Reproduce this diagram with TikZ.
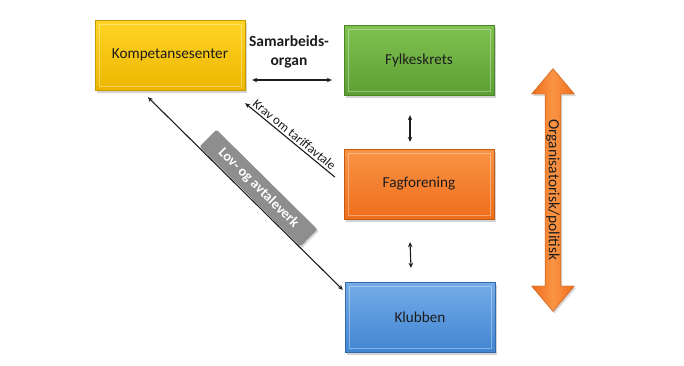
\documentclass[tikz,border=0pt]{standalone}
\usepackage{fontspec}
\setmainfont{Carlito}
\usepackage{xcolor}
\usetikzlibrary{arrows.meta, positioning, shapes.arrows, shadows}
\definecolor{ink}{HTML}{1C1C1C}
\definecolor{goldtop}{HTML}{FFD426}
\definecolor{goldbot}{HTML}{EDB600}
\definecolor{goldrim}{HTML}{C79A00}
\definecolor{greentop}{HTML}{80C250}
\definecolor{greenbot}{HTML}{5C9F34}
\definecolor{greenrim}{HTML}{4A8528}
\definecolor{orangetop}{HTML}{FA9445}
\definecolor{orangebot}{HTML}{EE6E1C}
\definecolor{orangerim}{HTML}{C55A12}
\definecolor{bluetop}{HTML}{74ACE8}
\definecolor{bluebot}{HTML}{4185D2}
\definecolor{bluerim}{HTML}{3369A8}
\definecolor{lawgrey}{HTML}{8E8E8E}

\begin{document}
\begin{tikzpicture}[x=1pt, y=-1pt,
      unit/.style={minimum width=150pt, minimum height=70pt, inner sep=0pt,
                   font=\fontsize{15.2}{18}\selectfont\color{ink},
                   drop shadow={shadow xshift=2pt, shadow yshift=-2.5pt, opacity=.35},
                   path picture={\draw[white, opacity=.35, line width=.8pt]
                     ([shift={(4pt,-4pt)}]path picture bounding box.north west) rectangle
                     ([shift={(-4pt,4pt)}]path picture bounding box.south east);}},
      goldunit/.style={unit, draw=goldrim, top color=goldtop, bottom color=goldbot},
      greenunit/.style={unit, draw=greenrim, top color=greentop, bottom color=greenbot},
      orangeunit/.style={unit, draw=orangerim, top color=orangetop, bottom color=orangebot},
      blueunit/.style={unit, draw=bluerim, top color=bluetop, bottom color=bluebot},
      link/.style={draw=ink, line width=1.1pt, {Stealth[length=5pt, width=4.5pt]}-{Stealth[length=5pt, width=4.5pt]}},
      claim/.style={draw=ink, line width=1.1pt, {Stealth[length=5pt, width=4.5pt]}-},
      lbl/.style={font=\fontsize{13}{15}\selectfont\color{ink}, inner sep=2pt},
      lawtag/.style={fill=lawgrey, rounded corners=1.5pt, minimum width=142pt, minimum height=24pt,
                     inner sep=0pt, font=\fontsize{14.2}{16}\selectfont\bfseries\color{white},
                     drop shadow={shadow xshift=1.5pt, shadow yshift=-1.5pt, opacity=.3}},
      levels/.style={double arrow, draw=orangerim, left color=orangebot, right color=orangebot,
                     middle color=orangetop, minimum height=243pt, minimum width=20pt,
                     inner sep=1pt, double arrow head extend=13.5pt, double arrow tip angle=80,
                     font=\fontsize{15.5}{17}\selectfont\color{ink},
                     drop shadow={shadow xshift=1.5pt, shadow yshift=-2pt, opacity=.3}}]
    \useasboundingbox (0,0) rectangle (684,365);

    % the four units
    \node[goldunit] (komp) at (170,55) {Kompetansesenter};
    \node[greenunit] (fylke) at (419,60) {Fylkeskrets};
    \node[orangeunit] (fag) at (419,184) {Fagforening};
    \node[blueunit] (klubb) at (420,317) {Klubben};

    % cooperation between the centre and the county
    \node[font=\fontsize{15.5}{19}\selectfont\bfseries\color{ink}, align=center] (samarb) at (289,52)
      {Samarbeids-\\organ};
    \draw[link] ([shift={(7,25)}]komp.east) -- ([shift={(-12,20)}]fylke.west);

    % the vertical chain
    \draw[link] ([shift={(-9,20)}]fylke.south) -- ([shift={(-9,-7)}]fag.north);
    \draw[link] ([shift={(-9,23)}]fag.south) -- ([shift={(-9,-14)}]klubb.north);

    % claims and regulations
    \draw[claim] ([shift={(0,13)}]komp.south east) --
      node[lbl, midway, sloped, above] (krav) {Krav om tariffavtale} ([shift={(-9,-7)}]fag.west);
    \draw[link] ([shift={(-22,7)}]komp.south) --
      node[lawtag, pos=0.52, sloped, above=0.5pt] (lov) {Lov- og avtaleverk} ([shift={(-2,8)}]klubb.north west);

    % organisational / political axis
    \node[levels, rotate=-90] (axis) at (553,190) {Organisatorisk/politisk};
  \end{tikzpicture}
\end{document}
